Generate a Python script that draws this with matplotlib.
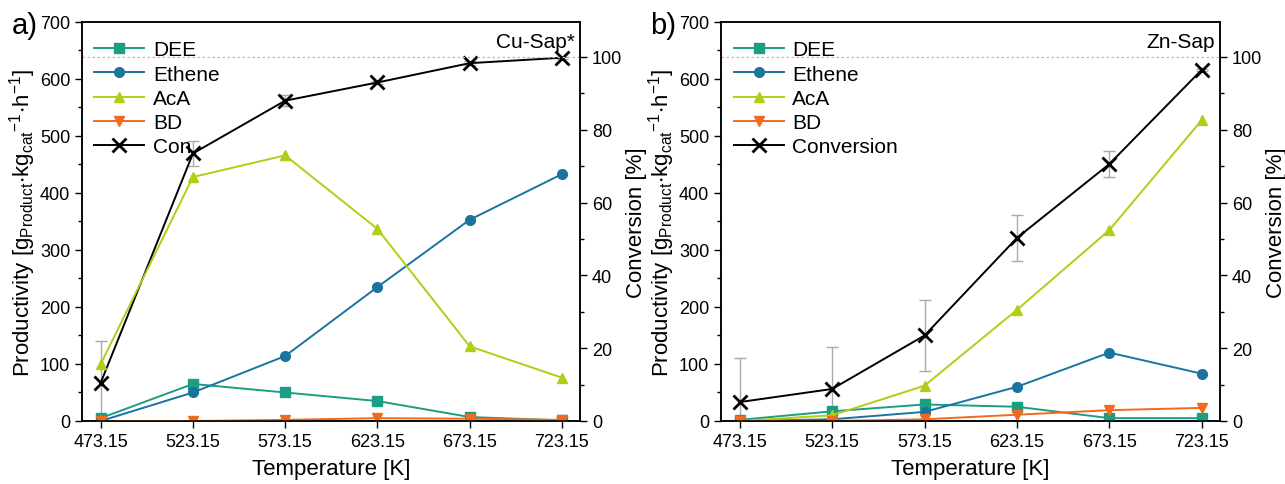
import matplotlib
matplotlib.use("Agg")
import matplotlib.pyplot as plt
import numpy as np

plt.rcParams['font.family'] = ['Liberation Sans', 'DejaVu Sans']
plt.rcParams['mathtext.default'] = 'regular'

temps = [473.15, 523.15, 573.15, 623.15, 673.15, 723.15]
temp_labels = ["473.15", "523.15", "573.15", "623.15", "673.15", "723.15"]

# Cu-Sap*
cu_dee = [5, 65, 50, 35, 7, 1]
cu_ethene = [0, 50, 114, 235, 353, 433]
cu_aca = [100, 428, 466, 337, 131, 76]
cu_bd = [0, 0, 2, 5, 4, 2]
cu_conv = [10.5, 73.5, 88.0, 93.0, 98.3, 99.8]
cu_conv_err = [11.5, 3.5, 1.5, 0.5, 0.5, 0.3]

# Zn-Sap
zn_dee = [2, 17, 29, 25, 5, 5]
zn_ethene = [0, 3, 16, 60, 120, 83]
zn_aca = [0, 10, 62, 195, 335, 528]
zn_bd = [0, 0, 3, 11, 19, 23]
zn_conv = [5.2, 8.8, 23.5, 50.3, 70.6, 96.5]
zn_conv_err = [12.0, 11.6, 9.7, 6.3, 3.7, 0.3]

c_dee = "#1b9e84"
c_eth = "#1a74a0"
c_aca = "#b4cc16"
c_bd = "#f26a1e"

ylab = r"Productivity [g$_{Product}$$\cdot$kg$_{cat}$$^{-1}$$\cdot$h$^{-1}$]"

fig = plt.figure(figsize=(12.85, 4.85), dpi=100)


def panel(rect, dee, eth, aca, bd, conv, err, tag, name, conv_label):
    ax = fig.add_axes(rect)
    ax2 = ax.twinx()
    ax.set_zorder(ax2.get_zorder() + 1)
    ax.patch.set_visible(False)

    kw = dict(lw=1.4, ms=7)
    l1, = ax.plot(temps, dee, "-s", color=c_dee, label="DEE", **kw)
    l2, = ax.plot(temps, eth, "-o", color=c_eth, label="Ethene", **kw)
    l3, = ax.plot(temps, aca, "-^", color=c_aca, label="AcA", **kw)
    l4, = ax.plot(temps, bd, "-v", color=c_bd, label="BD", **kw)

    ax2.errorbar(temps, conv, yerr=err, fmt="none", ecolor="#aaaaaa",
                 elinewidth=1, capsize=4, zorder=1)
    l5, = ax2.plot(temps, conv, "-x", color="black", lw=1.4, ms=10, mew=2,
                   label=conv_label)
    ax2.axhline(100, color="#bbbbbb", ls=(0, (2, 2)), lw=0.9)

    ax.set_xlim(463, 733)
    ax.set_ylim(0, 700)
    ax2.set_ylim(0, 700 / 638.6 * 100)
    ax.set_xticks(temps)
    ax.set_xticklabels(temp_labels)
    ax.set_yticks(np.arange(0, 701, 100))
    ax.set_yticks(np.arange(50, 700, 100), minor=True)
    ax2.set_yticks(np.arange(0, 101, 20))
    ax2.set_yticks(np.arange(10, 101, 20), minor=True)

    for a in (ax, ax2):
        a.tick_params(which="major", direction="out", length=5, width=1,
                      labelsize=13)
        a.tick_params(which="minor", direction="out", length=3, width=1)
        for s in a.spines.values():
            s.set_linewidth(1.1)

    ax.set_xlabel("Temperature [K]", fontsize=16, labelpad=6)
    ax.set_ylabel(ylab, fontsize=16, labelpad=1)
    ax2.set_ylabel("Conversion [%]", fontsize=16, labelpad=3)

    ax.legend(handles=[l1, l2, l3, l4, l5], loc="upper left", frameon=False,
              fontsize=15, handlelength=2.4, handletextpad=0.4,
              labelspacing=0.25, borderaxespad=0.2,
              bbox_to_anchor=(0.0, 0.985))
    ax.text(0.99, 0.975, name, transform=ax.transAxes, ha="right", va="top",
            fontsize=15)
    fig.text(rect[0] - 0.055, 0.975, tag, ha="left", va="top", fontsize=21)
    return ax


panel([0.0638, 0.1299, 0.3876, 0.8227], cu_dee, cu_ethene, cu_aca, cu_bd,
      cu_conv, cu_conv_err, "a)", "Cu-Sap*", "Con.")
panel([0.5611, 0.1299, 0.3883, 0.8227], zn_dee, zn_ethene, zn_aca, zn_bd,
      zn_conv, zn_conv_err, "b)", "Zn-Sap", "Conversion")

fig.savefig("out.png", dpi=100)
